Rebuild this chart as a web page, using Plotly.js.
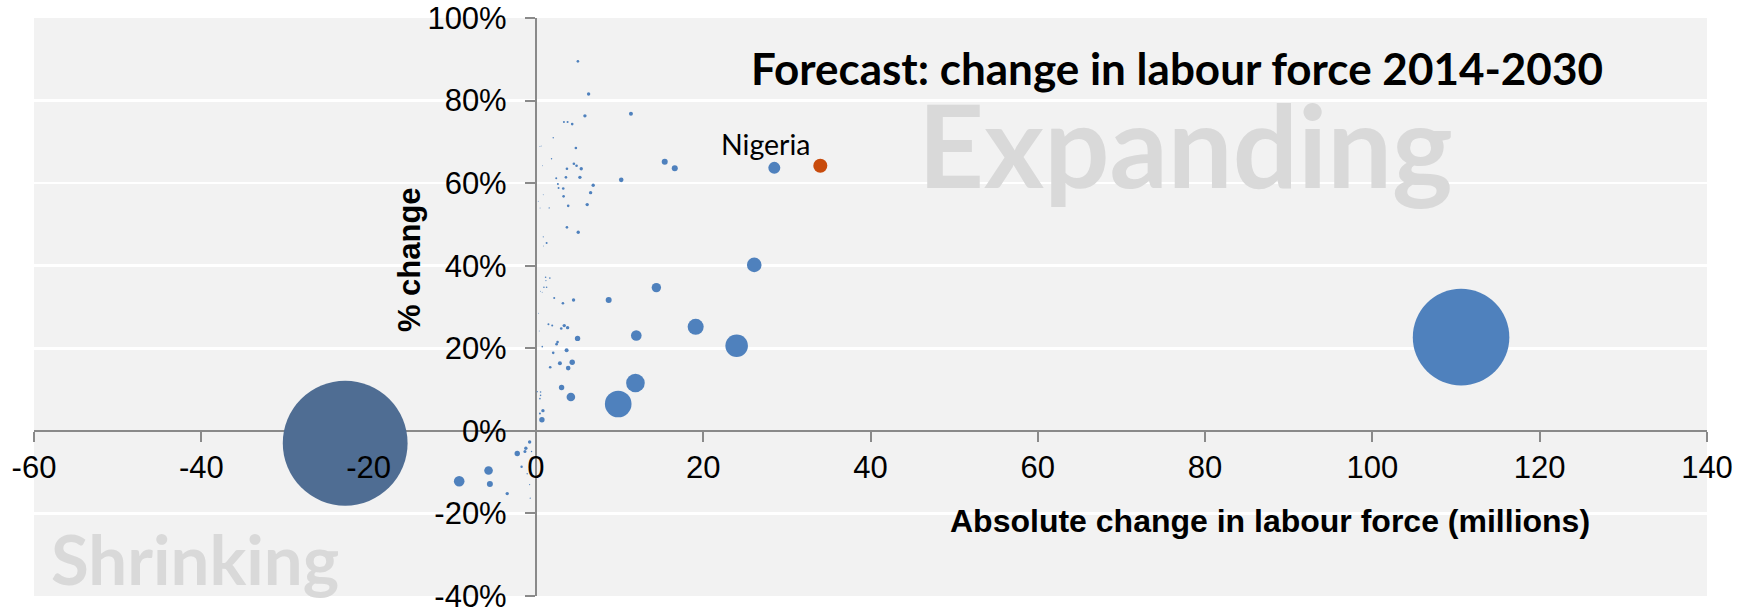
<!DOCTYPE html>
<html>
<head>
<meta charset="utf-8">
<script src="https://cdn.plot.ly/plotly-3.0.1.min.js"></script>
<style>
  html, body { margin: 0; padding: 0; background: #ffffff; }
  #chart { width: 1748px; height: 611px; }
</style>
</head>
<body>
<div id="chart"></div>
<script>
// ---- Data: absolute change in labour force (millions), % change, bubble size ----
const absChange = [110.6, 28.5, 26.1, 24.0, 19.1, 14.4, 12.0, 11.9, 9.84, 8.7,
  15.4, 16.6, 11.36, 10.2, 5.02, 6.3, 5.86, 3.35, 3.79, 4.34,
  2.07, 0.48, 0.63, 4.78, 1.87, 0.8, 4.54, 4.86, 5.42, 3.71,
  2.43, 3.59, 5.26, 2.63, 2.71, 3.27, 6.85, 0.88, 3.31, 6.54,
  6.13, 3.86, 1.59, 0.28, 0.5, 3.71, 5.06, 1.28, 0.88, 0.92,
  1.16, 1.67, 1.2, 0.96, 1.28, 0.56, 0.75, 4.5, 2.19, 3.23,
  4.98, 3.39, 3.79, 3.03, 1.5, 1.95, 2.59, 2.47, 3.67, 2.07,
  4.34, 2.87, 3.86, 1.71, 0.76, 0.4, 0.3, 3.07, 4.18, 0.16,
  0.56, 0.56, 0.48, 0.84, 0.72, 0.48, -0.75, -1.2, -1.31, -2.23,
  -0.52, -1.71, -1.04, -5.66, -5.5, -9.17, -3.43, -0.75, -0.68];
const pctChange = [22.7, 63.7, 40.2, 20.6, 25.2, 34.7, 23.1, 11.6, 6.5, 31.7,
  65.2, 63.6, 76.8, 60.8, 89.5, 81.6, 76.3, 74.8, 74.8, 74.3,
  71.0, 68.9, 69.0, 68.5, 65.9, 64.2, 64.7, 64.2, 63.5, 63.5,
  61.2, 61.4, 61.4, 59.8, 58.8, 58.7, 59.5, 57.2, 56.8, 57.7,
  54.8, 54.5, 54.0, 55.6, 54.0, 49.3, 48.1, 45.5, 47.0, 44.8,
  37.2, 37.0, 36.4, 34.8, 34.8, 33.8, 33.6, 31.7, 32.2, 30.9,
  22.4, 25.5, 25.0, 24.8, 25.8, 25.5, 21.5, 21.0, 19.5, 18.9,
  16.6, 16.4, 15.2, 15.4, 20.4, 24.2, 28.5, 10.5, 8.2, 9.5,
  9.4, 8.6, 7.8, 4.9, 2.7, 4.2, -2.7, -4.2, -5.0, -5.5,
  -5.0, -8.7, -10.4, -9.6, -12.9, -12.2, -15.2, -13.0, -16.3];
const bubbleSize = [479, 7.4, 11.0, 26.2, 13.2, 4.5, 5.8, 17.8, 36.4, 1.85,
  1.85, 1.85, 0.82, 1.09, 0.35, 0.59, 0.59, 0.21, 0.21, 0.35,
  0.10, 0.05, 0.05, 0.35, 0.10, 0.05, 0.35, 0.35, 0.59, 0.35,
  0.21, 0.35, 0.59, 0.21, 0.21, 0.35, 0.59, 0.05, 0.35, 0.59,
  0.59, 0.35, 0.10, 0.05, 0.05, 0.35, 0.59, 0.21, 0.074, 0.05,
  0.13, 0.13, 0.074, 0.13, 0.13, 0.05, 0.05, 0.59, 0.21, 0.35,
  1.50, 0.59, 0.59, 0.35, 0.21, 0.21, 0.35, 0.35, 0.82, 0.35,
  1.50, 0.82, 1.09, 0.35, 0.13, 0.05, 0.05, 1.50, 3.8, 0.10,
  0.13, 0.13, 0.13, 0.59, 1.50, 0.21, 0.59, 0.59, 0.46, 1.50,
  0.10, 0.30, 0.10, 3.8, 1.85, 5.8, 0.59, 0.074, 0.074];

// Highlighted countries
const chinaX = [-22.8], chinaY = [-3.0], chinaSize = [800];
const nigeriaX = [34.0], nigeriaY = [64.2], nigeriaSize = [10.1];

// Axis ticks and their labels
const xTicks = [-60, -40, -20, 0, 20, 40, 60, 80, 100, 120, 140];
const xTickLabels = ['-60', '-40', '-20', '0', '20', '40', '60', '80', '100', '120', '140'];
const yTicks = [-40, -20, 0, 20, 40, 60, 80, 100];
const yTickLabels = ['-40%', '-20%', '0%', '20%', '40%', '60%', '80%', '100%'];

// Text
const chartTitle = 'Forecast: change in labour force 2014-2030';
const xTitle = 'Absolute change in labour force (millions)';
const yTitle = '% change';

const SIZEREF = 800 / (2 * 62.4 * 62.4);
const AX = '#8a8a8a';
const tickFont = () => ({ family: 'Liberation Sans, Arial, sans-serif', size: 31, color: '#000000' });

const traces = [
  { type: 'scatter', mode: 'markers', x: absChange, y: pctChange, xaxis: 'x', yaxis: 'y',
    marker: { size: bubbleSize, sizemode: 'area', sizeref: SIZEREF, color: '#4f81bd', opacity: 1, line: { width: 0 } },
    hoverinfo: 'x+y', showlegend: false },
  { type: 'scatter', mode: 'markers', x: chinaX, y: chinaY, xaxis: 'x', yaxis: 'y',
    marker: { size: chinaSize, sizemode: 'area', sizeref: SIZEREF, color: '#4f6d93', opacity: 1, line: { width: 0 } },
    hoverinfo: 'x+y', showlegend: false },
  { type: 'scatter', mode: 'markers', x: nigeriaX, y: nigeriaY, xaxis: 'x', yaxis: 'y',
    marker: { size: nigeriaSize, sizemode: 'area', sizeref: SIZEREF, color: '#c84b0c', opacity: 1, line: { width: 0 } },
    hoverinfo: 'x+y', showlegend: false },
  // carrier for the label-only overlay x axis (no marks)
  { type: 'scatter', mode: 'markers', x: [], y: [], xaxis: 'x2', yaxis: 'y', showlegend: false, hoverinfo: 'skip' }
];

const X0FRAC = 60 / 200;   // x = 0 within the x range
const Y0FRAC = 40 / 140;   // y = 0 within the y range

const layout = {
  width: 1748, height: 611,
  margin: { l: 34, r: 41, t: 18, b: 15, autoexpand: false },
  paper_bgcolor: '#ffffff',
  plot_bgcolor: '#f2f2f2',
  showlegend: false,
  xaxis: {
    range: [-60, 140], tickmode: 'array', tickvals: xTicks, ticktext: xTickLabels,
    anchor: 'free', position: Y0FRAC,
    showgrid: false, zeroline: false,
    showline: true, linecolor: AX, linewidth: 2,
    ticks: 'outside', ticklen: 10, tickwidth: 2, tickcolor: AX,
    showticklabels: false, layer: 'below traces', fixedrange: true
  },
  xaxis2: {
    overlaying: 'x', matches: 'x',
    range: [-60, 140], tickmode: 'array', tickvals: xTicks, ticktext: xTickLabels,
    anchor: 'free', position: Y0FRAC, side: 'bottom',
    showgrid: false, zeroline: false, showline: false,
    ticks: 'outside', ticklen: 10, tickcolor: 'rgba(0,0,0,0)',
    ticklabelstandoff: -1, ticklabeloverflow: 'allow',
    showticklabels: true, tickfont: tickFont(), layer: 'above traces', fixedrange: true
  },
  yaxis: {
    range: [-40, 100], tickmode: 'array', tickvals: yTicks, ticktext: yTickLabels,
    anchor: 'free', position: X0FRAC, side: 'left',
    showgrid: true, gridcolor: '#ffffff', gridwidth: 2.5,
    zeroline: false,
    showline: true, linecolor: AX, linewidth: 2,
    ticks: 'outside', ticklen: 10, tickwidth: 2, tickcolor: AX,
    ticklabelstandoff: 12, ticklabeloverflow: 'allow',
    tickfont: tickFont(), layer: 'below traces', fixedrange: true
  },
  annotations: [
    { text: chartTitle, xref: 'x', yref: 'y', x: 76.6, y: 87.9, showarrow: false,
      xanchor: 'center', yanchor: 'middle',
      font: { family: 'Lato, sans-serif', size: 44, color: '#000000', weight: 'bold' } },
    { text: 'Expanding', xref: 'x', yref: 'y', x: 77.6, y: 69.7, showarrow: false,
      xanchor: 'center', yanchor: 'middle',
      font: { family: 'Lato, sans-serif', size: 115, color: '#d9d9d9', weight: 'bold' } },
    { text: 'Shrinking', xref: 'x', yref: 'y', x: -40.8, y: -31.0, showarrow: false,
      xanchor: 'center', yanchor: 'middle',
      font: { family: 'Lato, sans-serif', size: 69, color: '#d9d9d9', weight: 'bold' } },
    { text: 'Nigeria', xref: 'x', yref: 'y', x: 27.5, y: 69.6, showarrow: false,
      xanchor: 'center', yanchor: 'middle',
      font: { family: 'Lato, sans-serif', size: 28.5, color: '#000000' } },
    { text: yTitle, xref: 'x', yref: 'y', x: -15.1, y: 41.5, showarrow: false, textangle: -90,
      xanchor: 'center', yanchor: 'middle',
      font: { family: 'Liberation Sans, Arial, sans-serif', size: 31, color: '#000000', weight: 'bold' } },
    { text: xTitle, xref: 'x', yref: 'y', x: 87.7, y: -21.8, showarrow: false,
      xanchor: 'center', yanchor: 'middle',
      font: { family: 'Liberation Sans, Arial, sans-serif', size: 32, color: '#000000', weight: 'bold' } }
  ]
};

Plotly.newPlot('chart', traces, layout, { staticPlot: true, displayModeBar: false });
</script>
</body>
</html>
